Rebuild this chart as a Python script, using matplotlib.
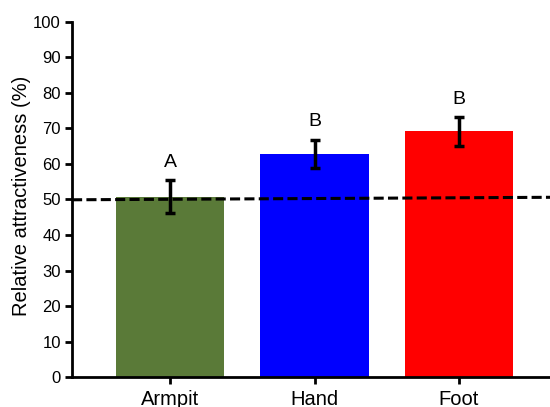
import matplotlib
matplotlib.use("Agg")
import matplotlib.pyplot as plt

categories = ["Armpit", "Hand", "Foot"]
means = [50.8, 62.8, 69.1]
errors = [4.6, 4.0, 4.0]
letters = ["A", "B", "B"]
colors = ["#5a7a38", "#0000ff", "#ff0000"]
reference_line = [49.9, 50.6]
yticks = list(range(0, 101, 10))

plt.rcParams["font.family"] = ["Liberation Sans", "DejaVu Sans"]

fig = plt.figure(figsize=(5.5, 4.07), dpi=100)
ax = fig.add_axes([0.131, 0.073, 0.869, 0.874])

x = list(range(len(categories)))
ax.bar(x, means, width=0.75, color=colors, zorder=1)
ax.errorbar(x, means, yerr=errors, fmt="none", ecolor="black",
            elinewidth=2.5, capsize=3.5, capthick=2.5, zorder=3)

xlim = (-0.68, 2.63)
ax.plot(xlim, reference_line, color="black", linestyle=(0, (3.3, 1.4)),
        linewidth=2.2, zorder=2, clip_on=False)

for xi, m, e, lab in zip(x, means, errors, letters):
    ax.text(xi, m + e + 5.0, lab, ha="center", va="center", fontsize=14)

ax.set_xlim(*xlim)
ax.set_ylim(0, 100)
ax.set_yticks(yticks)
ax.set_xticks(x)
ax.set_xticklabels(categories, fontsize=14.5)
ax.tick_params(axis="y", labelsize=12, width=2, length=5, direction="out", pad=3)
ax.tick_params(axis="x", width=2, length=5, direction="out", pad=4.5)
ax.set_ylabel("Relative attractiveness (%)", fontsize=14.5)
ax.yaxis.set_label_coords(-0.085, 0.51)

for side in ("top", "right"):
    ax.spines[side].set_visible(False)
for side in ("left", "bottom"):
    ax.spines[side].set_linewidth(2)

fig.savefig("out.png", dpi=100)
